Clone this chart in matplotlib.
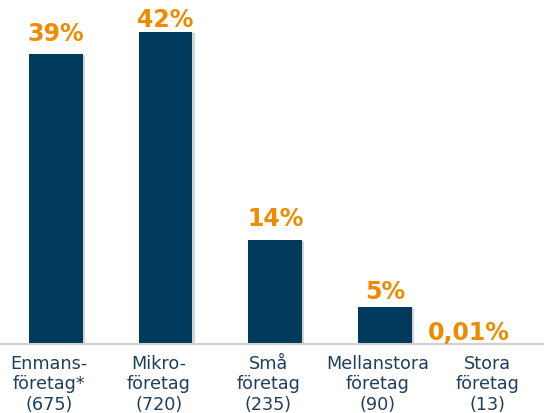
import matplotlib.pyplot as plt
import matplotlib.patheffects as pe
from matplotlib.transforms import ScaledTranslation

categories = ["Enmans-\nföretag*\n(675)", "Mikro-\nföretag\n(720)", "Små\nföretag\n(235)",
              "Mellanstora\nföretag\n(90)", "Stora\nföretag\n(13)"]
values = [39, 42, 14, 5, 0.01]
value_labels = ["39%", "42%", "14%", "5%", "0,01%"]

bar_color = "#003a5c"
label_color = "#ee8b00"
text_color = "#1f3f5c"

fig = plt.figure(figsize=(5.44, 4.14), dpi=100)
ax = fig.add_axes([0, 69/414, 1, 345/414])

x = list(range(len(values)))
bars = ax.bar(x, values, width=0.49, color=bar_color, zorder=2)
for b in bars:
    b.set_path_effects([pe.SimplePatchShadow(offset=(1.5, -1), shadow_rgbFace="#888888", alpha=0.35),
                        pe.Normal()])

# label offsets from bar top centre (pixels)
gaps = [14, 6, 15, 9, 5]
dx = [0, 0, 0, 0, -26]
for i, (v, lab) in enumerate(zip(values, value_labels)):
    ax.annotate(lab, (i, v), xytext=(dx[i] * 0.72, gaps[i] * 0.72), textcoords="offset points",
                ha="center", va="baseline", color=label_color, fontsize=17,
                fontweight="bold")

# category labels, shifted a little left of the bar centres like the original
shift = ax.get_xaxis_transform() + ScaledTranslation(-7/100, 0, fig.dpi_scale_trans)
for i, cat in enumerate(categories):
    ax.text(i, -0.03, cat, transform=shift, ha="center", va="top",
            fontsize=12.7, color=text_color, linespacing=1.15)

ax.set_xlim(-0.51, 4.45)
ax.set_ylim(0, 46.4)
ax.set_xticks([])
ax.set_yticks([])
for s in ["top", "right", "left"]:
    ax.spines[s].set_visible(False)
ax.spines["bottom"].set_color("#d0d0d0")
ax.spines["bottom"].set_linewidth(1.5)

fig.savefig("out.png", dpi=100)
